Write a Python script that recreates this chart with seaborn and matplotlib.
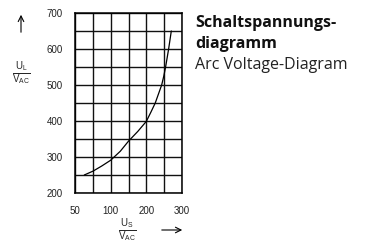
import numpy as np
import seaborn as sns
import matplotlib.pyplot as plt

# switching voltage U_S (V AC) vs. arc voltage U_L (V AC)
u_s = [63, 75.5, 87.5, 100, 127, 150, 176, 200, 213, 225, 234, 243, 249, 254, 262.5, 270]
u_l = [250, 261, 275, 291, 316, 344, 371, 399, 425, 450, 475, 500, 525, 550, 600, 650]

x_ticks = [50, 100, 200, 300]
x_grid = [75, 150, 250]
y_ticks = [200, 300, 400, 500, 600, 700]
y_grid = [250, 350, 450, 550, 650]

# the printed x axis is not linear: 50..100..200..300 on equal steps
x_pos = [0, 2, 4, 6]


def fwd(v):
    return np.interp(v, x_ticks, x_pos)


def inv(p):
    return np.interp(p, x_pos, x_ticks)


sns.set_style("white")
plt.rcParams['font.family'] = ['Liberation Sans', 'DejaVu Sans']
plt.rcParams['mathtext.fontset'] = 'custom'
plt.rcParams['mathtext.rm'] = 'Liberation Sans'
plt.rcParams['mathtext.it'] = 'Liberation Sans'

fig = plt.figure(figsize=(3.76, 2.44), dpi=100)
ax = fig.add_axes([75 / 376, 1 - 193 / 244, 107 / 376, 180 / 244])
ax.set_xscale('function', functions=(fwd, inv))

sns.lineplot(x=u_s, y=u_l, ax=ax, color='black', lw=0.9, sort=False)

ax.set_xlim(50, 300)
ax.set_ylim(200, 700)
ax.set_xticks(x_ticks)
ax.set_xticklabels([str(v) for v in x_ticks])
ax.set_xticks(x_grid, minor=True)
ax.set_yticks(y_ticks)
ax.set_yticklabels([str(v) for v in y_ticks])
ax.set_yticks(y_grid, minor=True)
ax.grid(True, which='both', color='#111111', lw=1.0)
ax.tick_params(which='both', length=0)
ax.tick_params(axis='x', pad=9, labelsize=7, colors='#222222')
ax.tick_params(axis='y', pad=9, labelsize=7, colors='#222222')
for s in ax.spines.values():
    s.set_color('black')
    s.set_linewidth(1.1)
ax.set_xlabel('')
ax.set_ylabel('')

# axis labels as fractions with arrows
fig.text(21 / 376, 1 - 73 / 244, r'$\frac{U_\mathrm{L}}{V_\mathrm{AC}}$',
         ha='center', va='center', fontsize=10)
fig.text(127 / 376, 1 - 230 / 244, r'$\frac{U_\mathrm{S}}{V_\mathrm{AC}}$',
         ha='center', va='center', fontsize=10)
fig.add_artist(plt.Annotation('', xy=(21 / 376, 1 - 12 / 244), xycoords='figure fraction',
                              xytext=(21 / 376, 1 - 35 / 244), textcoords='figure fraction',
                              arrowprops=dict(arrowstyle='->', lw=0.8, color='black')))
fig.add_artist(plt.Annotation('', xy=(185 / 376, 1 - 230 / 244), xycoords='figure fraction',
                              xytext=(159 / 376, 1 - 230 / 244), textcoords='figure fraction',
                              arrowprops=dict(arrowstyle='->', lw=0.8, color='black')))

# title block
title_font = ['Open Sans', 'Noto Sans', 'DejaVu Sans']
fig.text(195 / 376, 1 - 27 / 244, 'Schaltspannungs-', family=title_font,
         fontweight='bold', fontsize=11.5, va='baseline', color='#111111')
fig.text(195 / 376, 1 - 48 / 244, 'diagramm', family=title_font,
         fontweight='bold', fontsize=11.5, va='baseline', color='#111111')
fig.text(195 / 376, 1 - 69 / 244, 'Arc Voltage-Diagram', family=title_font,
         fontsize=11.5, va='baseline', color='#222222')

fig.savefig('out.png', dpi=100)
